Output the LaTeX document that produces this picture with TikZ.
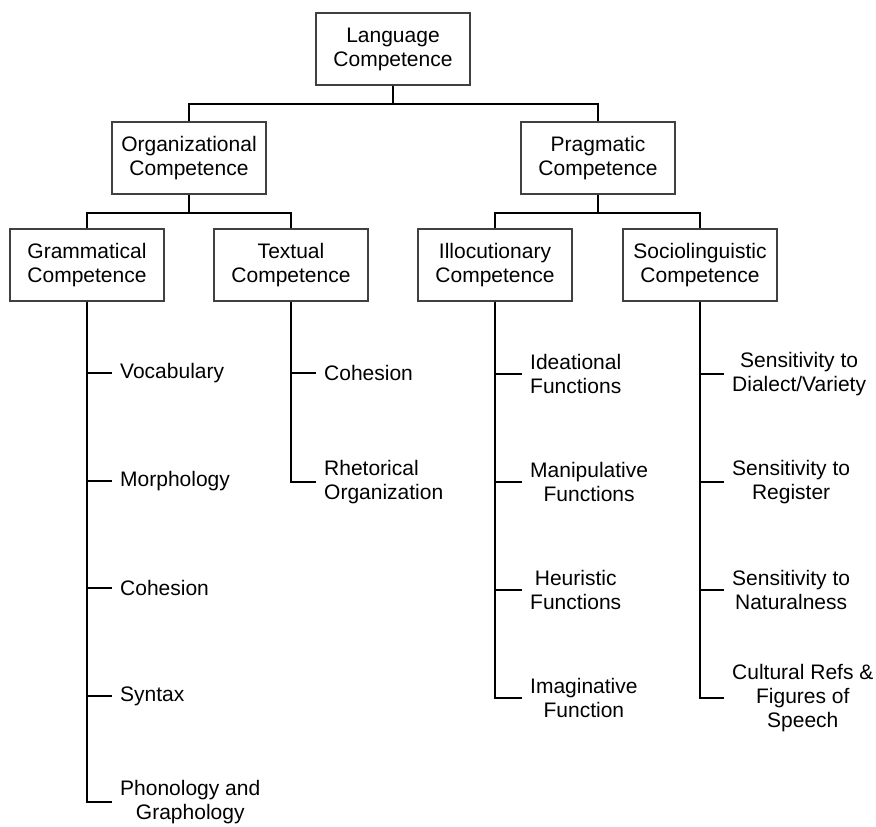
\documentclass[tikz,border=0pt]{standalone}
\usepackage{fontspec}
\setmainfont{Liberation Sans}
\usepackage{tikz}

\begin{document}
\begin{tikzpicture}[x=1pt, y=-1pt,
	font=\fontsize{21}{24}\selectfont,
	box/.style={draw=black!75, line width=1.3pt, minimum width=154pt, minimum height=72pt, inner sep=0pt, align=center},
	leaf/.style={anchor=west, align=center, inner xsep=8pt, inner ysep=0pt},
	fork/.style={line width=2.3pt, to path={-- ++(0,18) -| (\tikztotarget)}},
	elbow/.style={line width=2.3pt, to path={|- (\tikztotarget)}}]
	\useasboundingbox (0,0) rectangle (876,827);

	\node (lc) [box] at (393,49) {Language\\Competence};
	\node (oc) [box] at (189,158) {Organizational\\Competence};
	\node (pc) [box] at (598,158) {Pragmatic\\Competence};
	\node (gc) [box] at (87,265) {Grammatical\\Competence};
	\node (tc) [box] at (291,265) {Textual\\Competence};
	\node (ic) [box] at (495,265) {Illocutionary\\Competence};
	\node (sc) [box] at (700,265) {Sociolinguistic\\Competence};

	\node (voc) [leaf] at (112,373) {Vocabulary};
	\node (mor) [leaf] at (112,481) {Morphology};
	\node (coh) [leaf] at (112,588) {Cohesion};
	\node (syn) [leaf] at (112,696) {Syntax};
	\node (pho) [leaf] at (112,802) {Phonology and\\Graphology};

	\node (tcoh) [leaf] at (316,373) {Cohesion};
	\node (rho) [leaf, align=left] at (316,482) {Rhetorical\\Organization};

	\node (ide) [leaf] at (522,374) {Ideational\\Functions};
	\node (man) [leaf] at (522,482) {Manipulative\\Functions};
	\node (heu) [leaf] at (522,590) {Heuristic\\Functions};
	\node (ima) [leaf] at (522,698) {Imaginative\\Function};

	\node (dia) [leaf] at (724,374) {Sensitivity to\\Dialect/Variety};
	\node (reg) [leaf] at (724,482) {Sensitivity to\\Register};
	\node (nat) [leaf] at (724,590) {Sensitivity to\\Naturalness};
	\node (cul) [leaf] at (724,698) {Cultural Refs \&\\Figures of\\Speech};

	\path (lc.south) edge [fork] (oc.north);
	\path (lc.south) edge [fork] (pc.north);
	\path (oc.south) edge [fork] (gc.north);
	\path (oc.south) edge [fork] (tc.north);
	\path (pc.south) edge [fork] (ic.north);
	\path (pc.south) edge [fork] (sc.north);

	\foreach \l in {voc,mor,coh,syn,pho}
		\path (gc.south) edge [elbow] (\l.west);
	\foreach \l in {tcoh,rho}
		\path (tc.south) edge [elbow] (\l.west);
	\foreach \l in {ide,man,heu,ima}
		\path (ic.south) edge [elbow] (\l.west);
	\foreach \l in {dia,reg,nat,cul}
		\path (sc.south) edge [elbow] (\l.west);
\end{tikzpicture}
\end{document}
